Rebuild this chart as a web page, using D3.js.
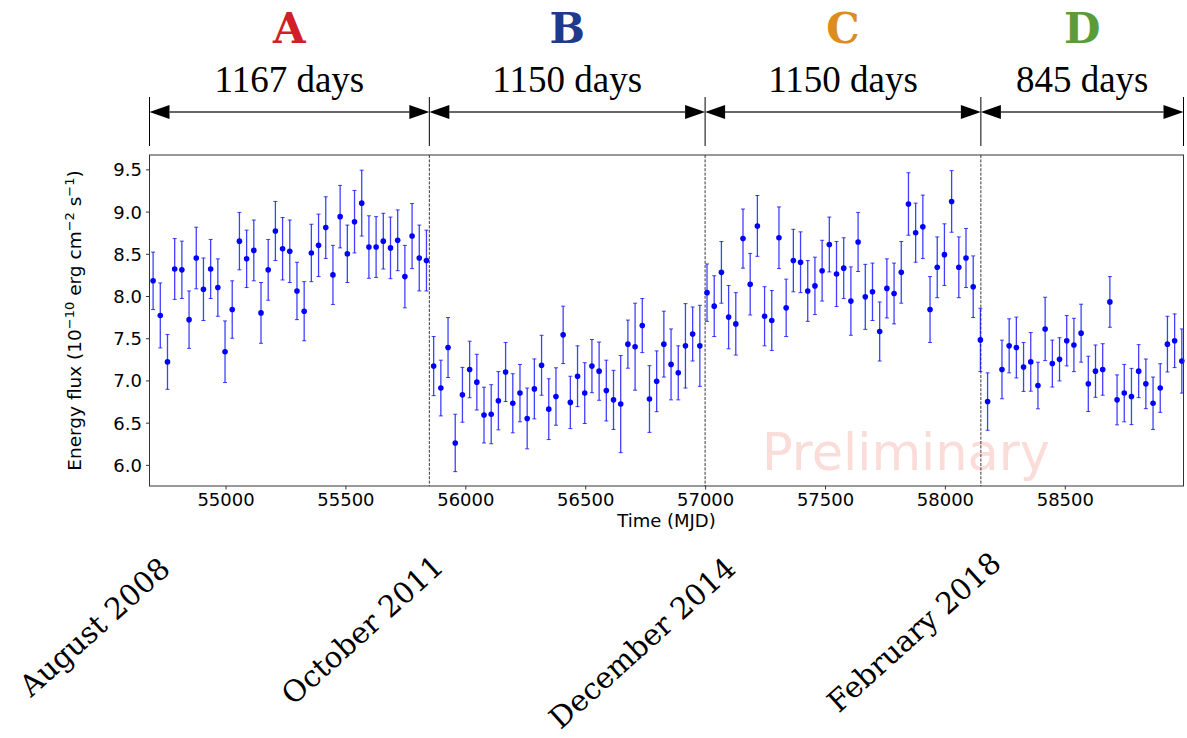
<!DOCTYPE html>
<html>
<head>
<meta charset="utf-8">
<title>Energy flux light curve</title>
<script src="https://cdn.jsdelivr.net/npm/d3@7"></script>
<style>
  html, body { margin: 0; padding: 0; background: #fff; }
  svg { display: block; }
  .tick text { font-family: "DejaVu Sans", sans-serif; font-size: 18px; fill: #000; }
</style>
</head>
<body>
<div id="chart"></div>
<script>
// Monthly (30-day) binned light curve, split into four epochs A-D.
// Values.

const mjd = [
  54698, 54728, 54758, 54788, 54818, 54848, 54878, 54908, 54938, 54968,
  54998, 55028, 55058, 55088, 55118, 55148, 55178, 55208, 55238, 55268,
  55298, 55328, 55358, 55388, 55418, 55448, 55478, 55508, 55538, 55568,
  55598, 55628, 55658, 55688, 55718, 55748, 55778, 55808, 55838, 55868,
  55898, 55928, 55958, 55988, 56018, 56048, 56078, 56108, 56138, 56168,
  56198, 56228, 56258, 56288, 56318, 56348, 56378, 56408, 56438, 56468,
  56498, 56528, 56558, 56588, 56618, 56648, 56678, 56708, 56738, 56768,
  56798, 56828, 56858, 56888, 56918, 56948, 56978, 57008, 57038, 57068,
  57098, 57128, 57158, 57188, 57218, 57248, 57278, 57308, 57338, 57368,
  57398, 57428, 57458, 57488, 57518, 57548, 57578, 57608, 57638, 57668,
  57698, 57728, 57758, 57788, 57818, 57848, 57878, 57908, 57938, 57968,
  57998, 58028, 58058, 58088, 58118, 58148, 58178, 58238, 58268, 58298,
  58328, 58358, 58388, 58418, 58448, 58478, 58508, 58538, 58568, 58598,
  58628, 58658, 58688, 58718, 58748, 58778, 58808, 58838, 58868, 58898,
  58928, 58958, 58988
];

// energy flux, 1e-10 erg cm^-2 s^-1
const flux = [
  8.18, 7.77, 7.22, 8.32, 8.31, 7.72, 8.45, 8.08, 8.32, 8.10,
  7.34, 7.84, 8.65, 8.44, 8.54, 7.80, 8.31, 8.77, 8.56, 8.53,
  8.06, 7.82, 8.51, 8.60, 8.81, 8.25, 8.94, 8.50, 8.88, 9.10,
  8.58, 8.58, 8.65, 8.57, 8.66, 8.23, 8.71, 8.45, 8.42, 7.17,
  6.91, 7.39, 6.26, 6.83, 7.13, 6.98, 6.59, 6.60, 6.76, 7.10,
  6.73, 6.85, 6.55, 6.90, 7.18, 6.66, 6.81, 7.54, 6.74, 7.05,
  6.85, 7.17, 7.11, 6.88, 6.77, 6.72, 7.43, 7.40, 7.65, 6.78,
  6.99, 7.43, 7.19, 7.09, 7.41, 7.55, 7.41, 8.04, 7.88, 8.28,
  7.75, 7.67, 8.68, 8.14, 8.83, 7.76, 7.71, 8.69, 7.86, 8.42,
  8.40, 8.06, 8.12, 8.30, 8.61, 8.26, 8.33, 7.94, 8.64, 7.99,
  8.05, 7.58, 8.09, 8.03, 8.28, 9.09, 8.75, 8.82, 7.84, 8.34,
  8.49, 9.12, 8.34, 8.45, 8.11, 7.48, 6.75, 7.13, 7.41, 7.39,
  7.16, 7.22, 6.94, 7.61, 7.20, 7.25, 7.47, 7.42, 7.56, 6.96,
  7.11, 7.13, 7.93, 6.77, 6.85, 6.81, 7.11, 6.96, 6.73, 6.91,
  7.43, 7.47, 7.23
];

const fluxErr = [
  0.34, 0.385, 0.325, 0.36, 0.34, 0.34, 0.365, 0.37, 0.35, 0.34,
  0.365, 0.34, 0.34, 0.34, 0.36, 0.36, 0.36, 0.35, 0.37, 0.37,
  0.34, 0.35, 0.34, 0.37, 0.365, 0.35, 0.37, 0.34, 0.37, 0.39,
  0.37, 0.36, 0.33, 0.365, 0.36, 0.37, 0.385, 0.39, 0.36, 0.35,
  0.33, 0.355, 0.34, 0.325, 0.335, 0.33, 0.33, 0.35, 0.345, 0.35,
  0.35, 0.34, 0.36, 0.355, 0.355, 0.36, 0.34, 0.34, 0.31, 0.36,
  0.36, 0.315, 0.345, 0.36, 0.35, 0.575, 0.285, 0.515, 0.32, 0.395,
  0.36, 0.39, 0.42, 0.32, 0.50, 0.32, 0.48, 0.34, 0.36, 0.365,
  0.375, 0.37, 0.35, 0.365, 0.36, 0.35, 0.355, 0.365, 0.34, 0.37,
  0.36, 0.36, 0.34, 0.36, 0.325, 0.385, 0.36, 0.405, 0.35, 0.385,
  0.34, 0.35, 0.35, 0.36, 0.365, 0.37, 0.35, 0.375, 0.39, 0.36,
  0.365, 0.365, 0.36, 0.35, 0.365, 0.375, 0.34, 0.347, 0.32, 0.36,
  0.29, 0.347, 0.276, 0.375, 0.278, 0.256, 0.298, 0.316, 0.343, 0.327,
  0.31, 0.305, 0.30, 0.296, 0.34, 0.333, 0.314, 0.294, 0.31, 0.288,
  0.33, 0.318, 0.38
];

// epoch boundaries (MJD) and labels
const epochBounds = [54683, 55850, 57000, 58150, 58995];
const epochNames = ['A', 'B', 'C', 'D'];
const epochColors = ['#d01f27', '#1f3a8a', '#dc8d1b', '#5a9c39'];
const dateLabels = ['August 2008', 'October 2011', 'December 2014', 'February 2018'];

const yTicks = [6.0, 6.5, 7.0, 7.5, 8.0, 8.5, 9.0, 9.5];
const xTicks = [55000, 55500, 56000, 56500, 57000, 57500, 58000, 58500];

(function () {
  'use strict';

  const width = 1187;
  const height = 738;
  const plot = { left: 149.5, right: 1183.5, top: 155, bottom: 486 };

  const points = mjd.map((t, i) => ({ t: t, v: flux[i], e: fluxErr[i] }));

  const x = d3.scaleLinear()
    .domain([epochBounds[0], epochBounds[epochBounds.length - 1]])
    .range([plot.left, plot.right]);

  const y = d3.scaleLinear()
    .domain([5.75, 9.67])
    .range([plot.bottom, plot.top]);

  const svg = d3.select('#chart')
    .append('svg')
    .attr('width', width)
    .attr('height', height)
    .attr('viewBox', `0 0 ${width} ${height}`);

  // Watermark sits under everything
  svg.append('text')
    .attr('x', 762)
    .attr('y', 470)
    .attr('font-family', '"DejaVu Sans", sans-serif')
    .attr('font-size', 51)
    .attr('fill', '#f08a80')
    .attr('fill-opacity', 0.3)
    .text('Preliminary');

  // Epoch separators (dashed)
  svg.append('g')
    .selectAll('line')
    .data(epochBounds.slice(1, -1))
    .enter()
    .append('line')
    .attr('x1', (d) => x(d))
    .attr('x2', (d) => x(d))
    .attr('y1', plot.top)
    .attr('y2', plot.bottom)
    .attr('stroke', '#222')
    .attr('stroke-width', 0.9)
    .attr('stroke-dasharray', '3,1.4');

  // Error bars
  const err = svg.append('g')
    .attr('stroke', '#0000ff')
    .attr('stroke-opacity', 0.75)
    .attr('fill', 'none');

  err.selectAll('line.bar')
    .data(points)
    .enter()
    .append('line')
    .attr('class', 'bar')
    .attr('x1', (d) => x(d.t))
    .attr('x2', (d) => x(d.t))
    .attr('y1', (d) => y(d.v - d.e))
    .attr('y2', (d) => y(d.v + d.e))
    .attr('stroke-width', 1.3);

  ['lo', 'hi'].forEach((end) => {
    err.selectAll('line.cap-' + end)
      .data(points)
      .enter()
      .append('line')
      .attr('class', 'cap-' + end)
      .attr('x1', (d) => x(d.t) - 2)
      .attr('x2', (d) => x(d.t) + 2)
      .attr('y1', (d) => y(end === 'lo' ? d.v - d.e : d.v + d.e))
      .attr('y2', (d) => y(end === 'lo' ? d.v - d.e : d.v + d.e))
      .attr('stroke-width', 1);
  });

  // Points
  svg.append('g')
    .selectAll('circle')
    .data(points)
    .enter()
    .append('circle')
    .attr('cx', (d) => x(d.t))
    .attr('cy', (d) => y(d.v))
    .attr('r', 2.8)
    .attr('fill', '#0000ff');

  // Axes
  const xAxis = svg.append('g')
    .attr('transform', `translate(0,${plot.bottom})`)
    .call(d3.axisBottom(x).tickValues(xTicks).tickFormat(d3.format('d'))
      .tickSizeInner(3.5).tickSizeOuter(0).tickPadding(4));

  const yAxis = svg.append('g')
    .attr('transform', `translate(${plot.left},0)`)
    .call(d3.axisLeft(y).tickValues(yTicks).tickFormat(d3.format('.1f'))
      .tickSizeInner(3.5).tickSizeOuter(0).tickPadding(4));

  [xAxis, yAxis].forEach((a) => {
    a.select('.domain').remove();
    a.selectAll('.tick line').attr('stroke', '#000').attr('stroke-width', 0.8);
  });
  yAxis.selectAll('.tick text').attr('dy', '0.36em');

  // Frame
  svg.append('rect')
    .attr('x', plot.left)
    .attr('y', plot.top)
    .attr('width', plot.right - plot.left)
    .attr('height', plot.bottom - plot.top)
    .attr('fill', 'none')
    .attr('stroke', '#333')
    .attr('stroke-width', 1);

  // Axis titles
  svg.append('text')
    .attr('x', (plot.left + plot.right) / 2)
    .attr('y', 527)
    .attr('text-anchor', 'middle')
    .attr('font-family', '"DejaVu Sans", sans-serif')
    .attr('font-size', 18)
    .text('Time (MJD)');

  const yLabel = svg.append('text')
    .attr('transform', `translate(81,${(plot.top + plot.bottom) / 2}) rotate(-90)`)
    .attr('text-anchor', 'middle')
    .attr('font-family', '"DejaVu Sans", sans-serif')
    .attr('font-size', 18.5);
  yLabel.append('tspan').text('Energy flux (10');
  yLabel.append('tspan').attr('dy', -7).attr('font-size', 13).text('\u221210');
  yLabel.append('tspan').attr('dy', 7).text(' erg cm');
  yLabel.append('tspan').attr('dy', -7).attr('font-size', 13).text('\u22122');
  yLabel.append('tspan').attr('dy', 7).text(' s');
  yLabel.append('tspan').attr('dy', -7).attr('font-size', 13).text('\u22121');
  yLabel.append('tspan').attr('dy', 7).text(')');

  // Epoch span annotations above the plot
  const epochs = epochNames.map((name, i) => ({
    name: name,
    color: epochColors[i],
    start: epochBounds[i],
    end: epochBounds[i + 1],
    date: dateLabels[i]
  }));

  const top = svg.append('g');
  const arrowY = 112;
  const headL = 20;
  const headH = 7;

  top.selectAll('line.tick-v')
    .data(epochBounds)
    .enter()
    .append('line')
    .attr('class', 'tick-v')
    .attr('x1', (d) => x(d))
    .attr('x2', (d) => x(d))
    .attr('y1', 97)
    .attr('y2', 146)
    .attr('stroke', '#000')
    .attr('stroke-width', 1);

  const ep = top.selectAll('g.epoch')
    .data(epochs)
    .enter()
    .append('g')
    .attr('class', 'epoch');

  ep.append('line')
    .attr('x1', (d) => x(d.start) + headL)
    .attr('x2', (d) => x(d.end) - headL)
    .attr('y1', arrowY)
    .attr('y2', arrowY)
    .attr('stroke', '#333')
    .attr('stroke-width', 1.5);

  ep.append('path')
    .attr('d', (d) => {
      const a = x(d.start);
      const b = x(d.end);
      return `M${a},${arrowY}L${a + headL},${arrowY - headH}L${a + headL},${arrowY + headH}Z` +
        `M${b},${arrowY}L${b - headL},${arrowY - headH}L${b - headL},${arrowY + headH}Z`;
    })
    .attr('fill', '#000');

  ep.append('text')
    .attr('x', (d) => (x(d.start) + x(d.end)) / 2)
    .attr('y', 92)
    .attr('text-anchor', 'middle')
    .attr('font-family', '"Liberation Serif", serif')
    .attr('font-size', 37)
    .text((d) => `${d.end - d.start} days`);

  ep.append('text')
    .attr('x', (d) => (x(d.start) + x(d.end)) / 2)
    .attr('y', 43)
    .attr('text-anchor', 'middle')
    .attr('font-family', '"DejaVu Serif", serif')
    .attr('font-weight', 'bold')
    .attr('font-size', 42)
    .attr('fill', (d) => d.color)
    .text((d) => d.name);

  // Rotated start dates below the axis
  const dateOffsets = [[-55, 627], [-67, 630], [-63, 643], [-67, 632]];
  ep.append('text')
    .attr('transform', (d, i) =>
      `translate(${x(d.start) + dateOffsets[i][0]},${dateOffsets[i][1]}) rotate(-42)`)
    .attr('text-anchor', 'middle')
    .attr('dy', '0.35em')
    .attr('font-family', '"DejaVu Serif", serif')
    .attr('font-size', 29.5)
    .text((d) => d.date);
})();
</script>
</body>
</html>
